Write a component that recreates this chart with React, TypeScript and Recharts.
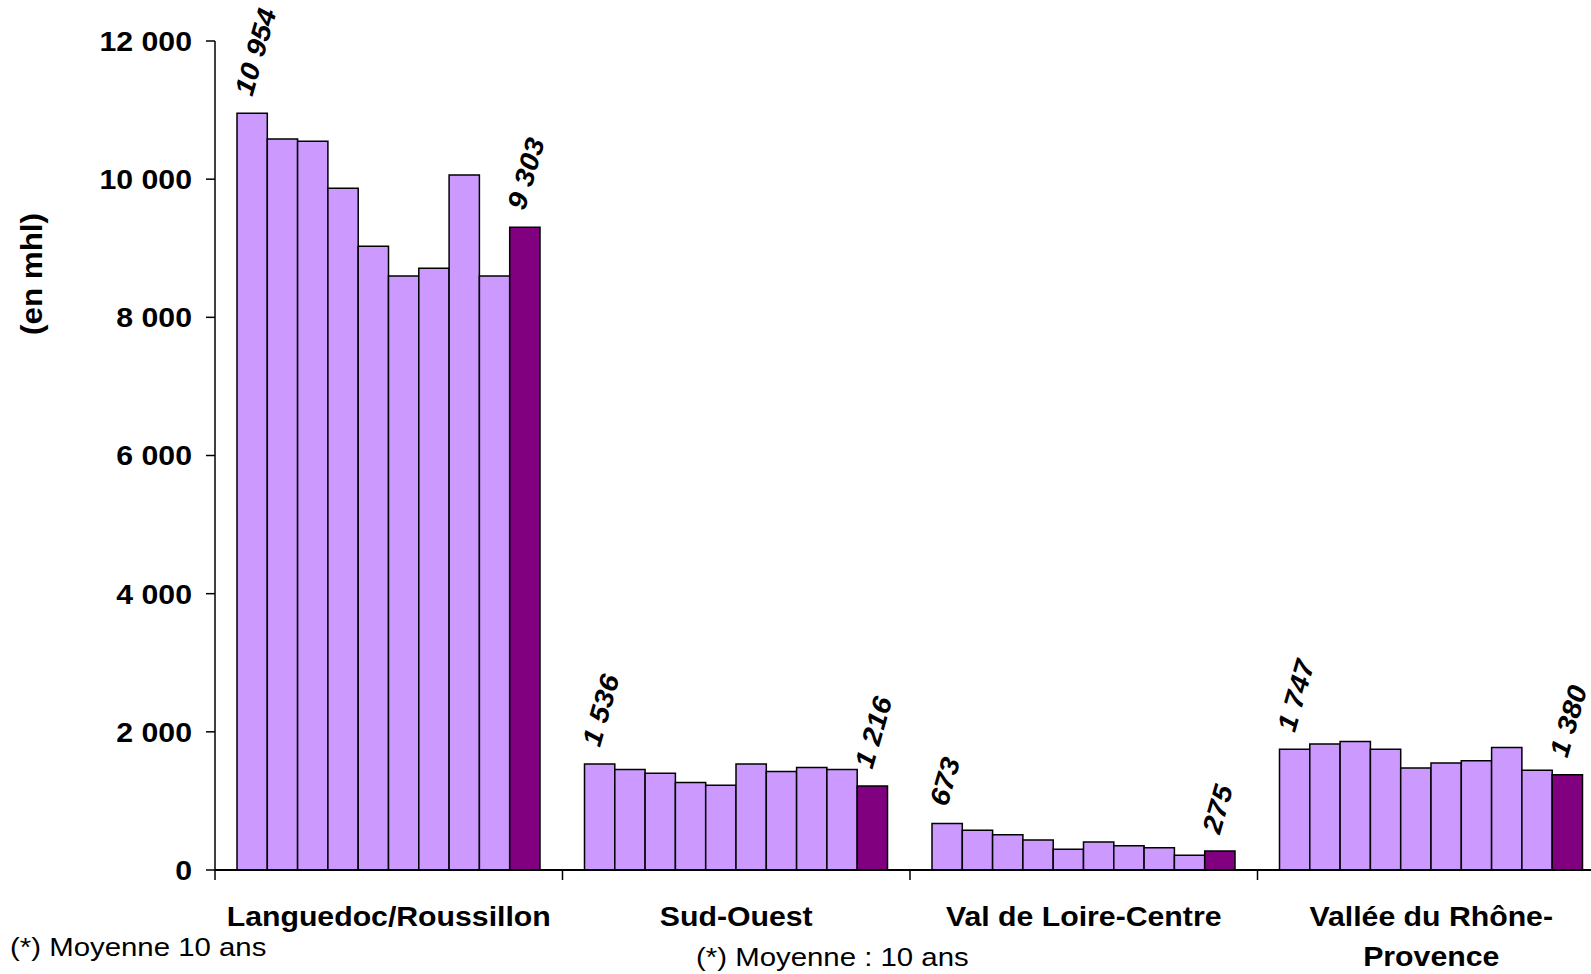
import React from "react";
import { BarChart, Bar, XAxis, YAxis, LabelList } from "recharts";

// regions on the x axis (each label split in lines)
const categories = ["Languedoc/Roussillon", "Sud-Ouest", "Val de Loire-Centre", "Vallée du Rhône-Provence"];
const categoryLines = [["Languedoc/Roussillon"], ["Sud-Ouest"], ["Val de Loire-Centre"], ["Vallée du Rhône-", "Provence"]];

// 9 yearly bars + 10-year average (last one), in mhl
const languedoc = [10954, 10580, 10550, 9870, 9030, 8600, 8710, 10060, 8600, 9303];
const sudOuest = [1536, 1455, 1400, 1265, 1225, 1536, 1425, 1485, 1455, 1216];
const valDeLoire = [673, 575, 511, 434, 300, 405, 352, 323, 213, 275];
const valleeRhone = [1747, 1825, 1860, 1747, 1475, 1550, 1580, 1775, 1445, 1380];

const seriesKeys = ["a1", "a2", "a3", "a4", "a5", "a6", "a7", "a8", "a9", "moy"];
const yTicks = [0, 2000, 4000, 6000, 8000, 10000, 12000];

const regionValues = [languedoc, sudOuest, valDeLoire, valleeRhone];
const data = categories.map((name, i) => {
  const row: Record<string, any> = { name };
  seriesKeys.forEach((k, j) => (row[k] = regionValues[i][j]));
  return row;
});

const LIGHT = "#CC99FF";
const DARK = "#800080";
const FONT = "'Liberation Sans', Arial, sans-serif";
const SX = 1.08; // the original font runs a bit wider than Arial

const CHART_W = 1605;
const CHART_H = 974;
const Y_W = 215;
const BAND = (CHART_W - Y_W) / categories.length;

const fmt = (v: number) => String(v).replace(/\B(?=(\d{3})+(?!\d))/g, " ");
const stretch = (x: number, y: number, angle = 0, sx = SX) =>
  `translate(${x} ${y}) rotate(${angle}) scale(${sx} 1) translate(${-x} ${-y})`;

const CategoryTick = (props: any) => {
  const { x, y, index } = props;
  const lines = categoryLines[index] || [];
  const bx = x - BAND / 2;
  return (
    <g>
      <line x1={bx} y1={y} x2={bx} y2={y + 10} stroke="#000" strokeWidth={1.5} />
      {lines.map((t, i) => {
        const ty = y + 56 + i * 40;
        return (
          <text key={i} x={x} y={ty} transform={stretch(x, ty)} textAnchor="middle" fontFamily={FONT} fontWeight="bold" fontSize={28} fill="#000">
            {t}
          </text>
        );
      })}
    </g>
  );
};

const ValueTick = (props: any) => {
  const { x, y, payload } = props;
  return (
    <text x={x} y={y} dy="0.355em" transform={stretch(x, y)} textAnchor="end" fontFamily={FONT} fontWeight="bold" fontSize={28} fill="#000">
      {fmt(payload.value)}
    </text>
  );
};

const BarValue = (props: any) => {
  const { x, y, width, value } = props;
  const cx = x + width / 2;
  const cy = y - 16;
  return (
    <text x={cx} y={cy} transform={stretch(cx, cy, -74)} fontFamily={FONT} fontWeight="bold" fontStyle="italic" fontSize={27} fill="#000">
      {fmt(value)}
    </text>
  );
};

export default function App() {
  return (
    <div style={{ position: "absolute", left: 0, top: 0, width: 1591, height: 974, overflow: "hidden", background: "#fff" }}>
      <BarChart width={CHART_W} height={CHART_H} data={data} margin={{ top: 41, right: 0, bottom: 0, left: 0 }} barGap={0} barSize={30.3}>
        <XAxis dataKey="name" height={104} interval={0} tickLine={false} tickSize={0} tickMargin={0} axisLine={{ stroke: "#000", strokeWidth: 2 }} tick={<CategoryTick />} />
        <YAxis
          width={Y_W}
          domain={[0, 12000]}
          ticks={yTicks}
          interval={0}
          tickSize={9}
          tickMargin={14}
          axisLine={{ stroke: "#000", strokeWidth: 1.5 }}
          tickLine={{ stroke: "#000", strokeWidth: 1.5 }}
          tick={<ValueTick />}
          label={() => (
            <text x={32} y={274} transform={stretch(32, 274, -90)} textAnchor="middle" dominantBaseline="central" fontFamily={FONT} fontWeight="bold" fontSize={29} fill="#000">
              (en mhl)
            </text>
          )}
        />
        {seriesKeys.map((k, i) => (
          <Bar key={k} dataKey={k} fill={i === seriesKeys.length - 1 ? DARK : LIGHT} stroke="#000" strokeWidth={1.5} isAnimationActive={false}>
            {(i === 0 || i === seriesKeys.length - 1) && <LabelList dataKey={k} content={<BarValue />} />}
          </Bar>
        ))}
      </BarChart>
      <div style={{ position: "absolute", left: 10, top: 934, fontFamily: FONT, fontSize: 26, lineHeight: "26px", color: "#000", whiteSpace: "nowrap", transform: "scaleX(1.13)", transformOrigin: "0 0" }}>
        (*) Moyenne 10 ans
      </div>
      <div style={{ position: "absolute", left: 696, top: 944, fontFamily: FONT, fontSize: 26, lineHeight: "26px", color: "#000", whiteSpace: "nowrap", transform: "scaleX(1.13)", transformOrigin: "0 0" }}>
        (*) Moyenne : 10 ans
      </div>
    </div>
  );
}
